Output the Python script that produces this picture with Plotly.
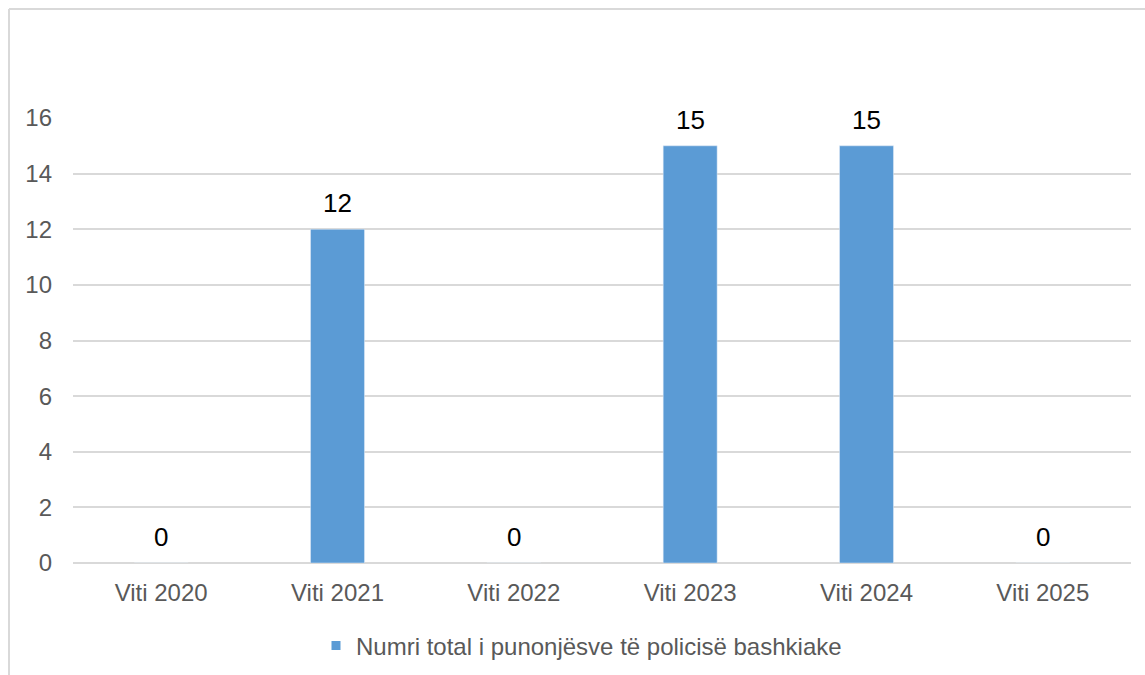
import plotly.graph_objects as go

categories = ["Viti 2020", "Viti 2021", "Viti 2022", "Viti 2023", "Viti 2024", "Viti 2025"]
values = [0, 12, 0, 15, 15, 0]
series_name = "Numri total i punonjësve të policisë bashkiake"
y_ticks = [0, 2, 4, 6, 8, 10, 12, 14, 16]

BAR = "#5B9BD5"
GRID = "#D9D9D9"
LABEL = "#595959"
FONT = "Arial, 'Liberation Sans', sans-serif"

W, H = 1145, 675
ML, MR, MT, MB = 73, 14, 118, 112
pw = W - ML - MR
ph = H - MT - MB

fig = go.Figure()
fig.add_trace(go.Bar(x=categories, y=values, marker_color=BAR, showlegend=False,
                     hoverinfo="x+y"))
fig.add_trace(go.Scatter(x=[None], y=[None], mode="markers", name=series_name,
                         marker=dict(symbol="square", size=9, color=BAR)))

for c, v in zip(categories, values):
    fig.add_annotation(x=c, y=v, text=str(v), showarrow=False, yanchor="middle",
                       yshift=26, font=dict(family=FONT, size=26, color="#000000"))

def px_x(p):
    return (p - ML) / pw

def px_y(p):
    return (H - MB - p) / ph

# chart-area border (top and left visible)
fig.add_shape(type="line", xref="paper", yref="paper", x0=px_x(9), x1=px_x(1200),
              y0=px_y(9), y1=px_y(9), line=dict(color=GRID, width=2))
fig.add_shape(type="line", xref="paper", yref="paper", x0=px_x(9), x1=px_x(9),
              y0=px_y(9), y1=px_y(700), line=dict(color=GRID, width=2))

fig.update_layout(
    width=W, height=H,
    margin=dict(l=ML, r=MR, t=MT, b=MB, autoexpand=False),
    paper_bgcolor="white", plot_bgcolor="white",
    bargap=0.694,
    font=dict(family=FONT, size=24, color=LABEL),
    showlegend=True,
    legend=dict(orientation="h", x=px_x(316), xanchor="left", y=px_y(646), yanchor="middle",
                font=dict(family=FONT, size=24, color=LABEL), itemwidth=30,
                bgcolor="rgba(0,0,0,0)"),
    xaxis=dict(showgrid=False, showline=False, ticks="", ticklabelstandoff=13,
               automargin=False, tickfont=dict(size=24, color=LABEL)),
    yaxis=dict(range=[0, 16], tickvals=y_ticks, showgrid=True, gridcolor=GRID, gridwidth=1.5,
               zeroline=True, zerolinecolor=GRID, zerolinewidth=1.5, showline=False,
               automargin=False, ticks="", ticklabelstandoff=20,
               tickfont=dict(size=24, color=LABEL)),
)

fig.write_html("out.html", config={"displayModeBar": False},
               post_script="document.body.style.margin='0';")
